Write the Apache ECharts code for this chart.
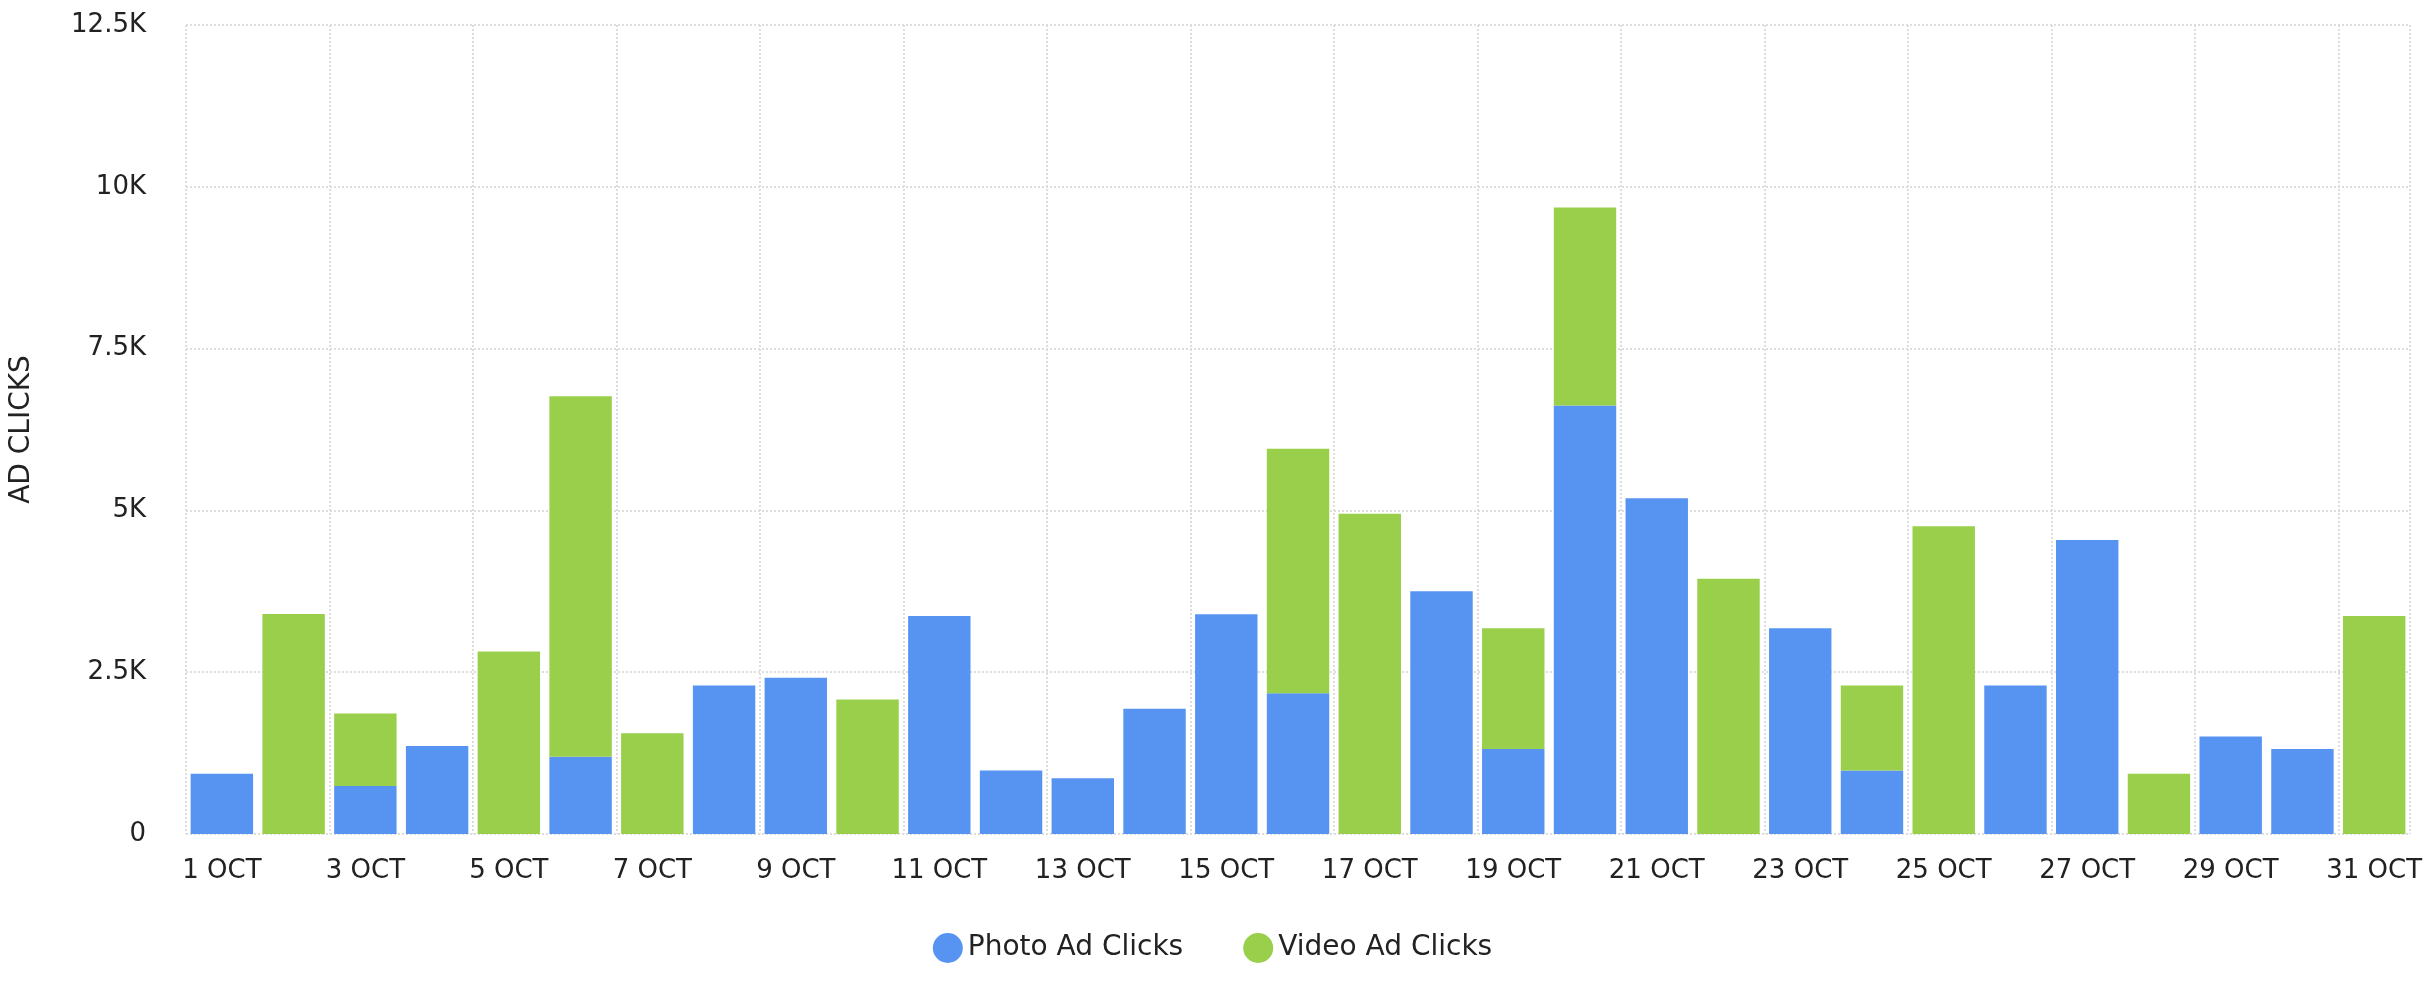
<!DOCTYPE html>
<html>
<head>
  <meta charset="UTF-8">
  <script src="https://cdn.jsdelivr.net/npm/echarts@6/dist/echarts.min.js"></script>
  <style>body{margin:0;background:#fff}</style>
</head>
<body>
  <div id="chart" style="width:2425px;height:1000px;"></div>
  <script>
    const days = [];
    for (let d = 1; d <= 31; d++) days.push(d + ' OCT');
    const photoClicks = [930, 0, 740, 1360, 0, 1195, 0, 2295, 2414, 0, 3370, 980, 860, 1936, 3394, 2175,
      0, 3752, 1315, 6620, 5186, 0, 3179, 980, 0, 2295, 4541, 0, 1506, 1315, 0];
    const videoClicks = [0, 3400, 1120, 0, 2820, 5570, 1555, 0, 0, 2080, 0, 0, 0, 0, 0, 3776,
      4947, 0, 1864, 3060, 0, 3944, 0, 1315, 4756, 0, 0, 932, 0, 0, 3370];

    const chart = echarts.init(document.getElementById('chart'));
    const fmtK = v => v === 0 ? '0' : (v / 1000) + 'K';
    const gridLine = { show: true, lineStyle: { type: 'dotted', color: '#dddddd', width: 2 } };
    chart.setOption({
      animation: false,
      textStyle: { fontFamily: 'DejaVu Sans' },
      grid: { left: 186, right: 8, top: 25, bottom: 166 },
      legend: {
        bottom: 32, itemWidth: 30, itemHeight: 30, itemGap: 60, icon: 'circle',
        textStyle: { fontSize: 28, color: '#222' },
        data: ['Photo Ad Clicks', 'Video Ad Clicks']
      },
      xAxis: {
        type: 'category', data: days,
        axisLine: { show: false }, axisTick: { show: false },
        axisLabel: { interval: 1, fontSize: 26, color: '#222', margin: 24, width: 110, overflow: 'truncate' },
        splitLine: Object.assign({ interval: 1 }, gridLine)
      },
      yAxis: {
        type: 'value', min: 0, max: 12500, interval: 2500,
        name: 'AD CLICKS', nameLocation: 'middle', nameGap: 150,
        nameTextStyle: { fontSize: 28, color: '#222' },
        axisLabel: { formatter: fmtK, fontSize: 26, color: '#222', margin: 40 },
        splitLine: gridLine
      },
      series: [
        { name: 'Photo Ad Clicks', type: 'bar', stack: 'a', data: photoClicks,
          barCategoryGap: '13%', itemStyle: { color: '#5794f2' } },
        { name: 'Video Ad Clicks', type: 'bar', stack: 'a', data: videoClicks,
          itemStyle: { color: '#99cf4a' } }
      ]
    });
  </script>
</body>
</html>
